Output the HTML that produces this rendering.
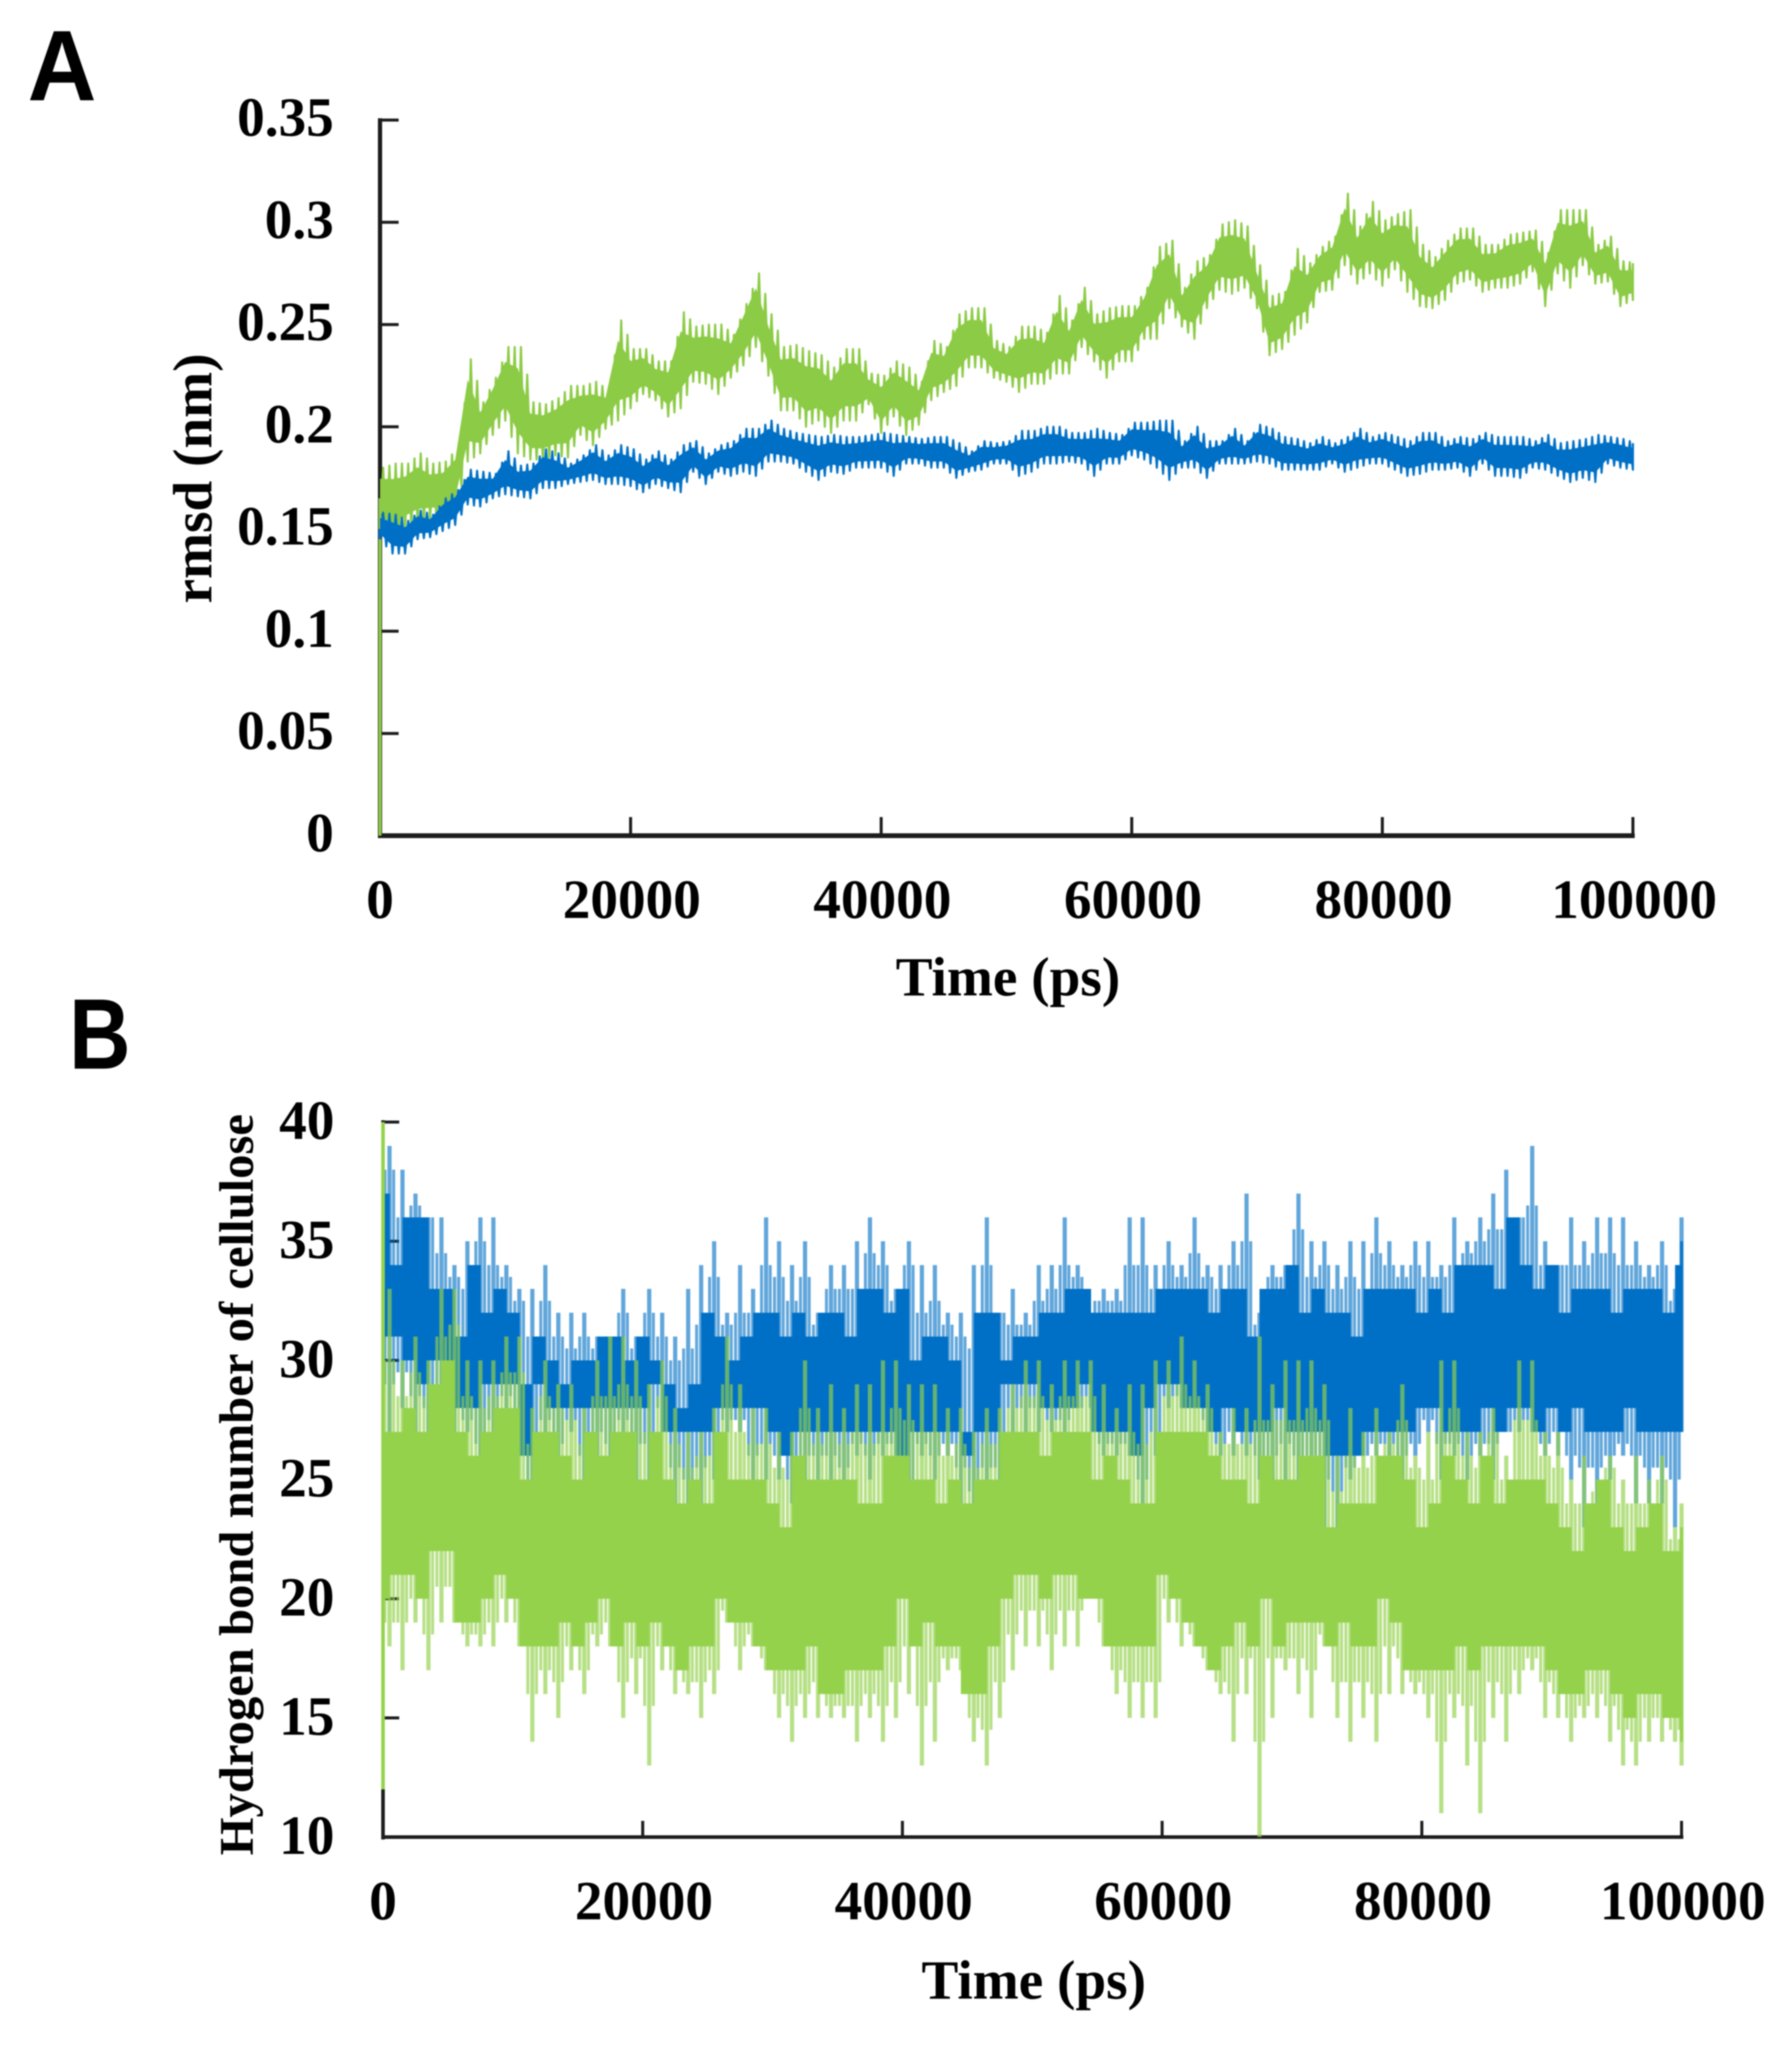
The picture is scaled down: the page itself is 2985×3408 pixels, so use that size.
<!DOCTYPE html>
<html lang="en">
<head>
<meta charset="utf-8">
<title>RMSD and hydrogen bond number over time</title>
<style>
  html, body { margin: 0; padding: 0; background: #fff; }
  svg { display: block; filter: blur(1.1px); }
  text { font-family: "Liberation Serif", serif; font-weight: 700; fill: #000; }
  .panel { font-family: "Liberation Sans", sans-serif; font-size: 167px; fill: #000; }
  .tick { font-size: 92px; }
  .title { font-size: 92px; }
</style>
</head>
<body>
<svg id="figure" xmlns="http://www.w3.org/2000/svg" width="2985" height="3408" viewBox="0 0 2985 3408">
  <rect x="0" y="0" width="2985" height="3408" fill="#fff"/>

  <text class="panel" transform="translate(46,167) scale(.95,1)">A</text>
  <g id="chartA"></g>
  <text class="title" text-anchor="middle" transform="translate(352,797) rotate(-90)">rmsd (nm)</text>
  <text class="title" text-anchor="middle" x="1679" y="1658">Time (ps)</text>

  <text class="panel" transform="translate(115,1780) scale(.85,1)">B</text>
  <g id="chartB"></g>
  <text class="title" style="font-size:81px" text-anchor="middle" transform="translate(421,2473) rotate(-90)">Hydrogen bond number of cellulose</text>
  <text class="title" text-anchor="middle" x="1722" y="3329">Time (ps)</text>
</svg>

<script>
// ---- shared x data ----
const binPs = 1000;
const xTicks = [0, 20000, 40000, 60000, 80000, 100000];
const xTickLabels = ['0', '20000', '40000', '60000', '80000', '100000'];

// ---- chart A: rmsd, envelope per 1000 ps bin, in thousandths of a nm ----
const rmsdYTicks = [0, 0.05, 0.1, 0.15, 0.2, 0.25, 0.3, 0.35];
const rmsdYLabels = ['0', '0.05', '0.1', '0.15', '0.2', '0.25', '0.3', '0.35'];
const rmsdGreenStart = [0, 165];
const rmsdBlueStart = [145, 150];
const rmsdGreenHigh = [
  180,182,182,187,182,183,190,233,212,224,
  239,239,212,211,214,220,220,222,218,252,
  238,238,232,232,256,249,250,250,245,260,
  275,255,239,240,237,235,229,238,238,226,
  225,232,229,222,242,239,255,258,258,242,
  239,249,249,246,264,252,268,255,258,259,
  259,268,288,291,268,281,284,299,301,298,
  279,264,266,287,280,288,293,314,298,310,
  301,304,306,289,283,291,297,297,289,289,
  294,295,296,285,306,306,306,289,293,281,
  280];
const rmsdGreenLow = [
  153,144,150,153,155,155,159,183,187,196,
  203,187,184,184,186,185,196,191,199,203,
  209,216,213,205,209,222,221,216,224,230,
  239,225,208,208,200,203,197,203,203,211,
  197,205,196,201,213,217,220,229,229,224,
  222,217,221,221,226,226,239,232,224,232,
  232,243,243,258,249,243,258,267,265,268,
  258,235,238,245,251,266,267,279,270,275,
  269,277,266,259,258,262,270,272,266,268,
  268,270,276,259,275,268,279,270,271,259,
  262];
const rmsdBlueHigh = [
  158,157,154,159,157,165,169,179,178,177,
  188,181,182,189,187,182,186,191,186,191,
  189,184,188,184,191,193,187,191,193,199,
  199,203,199,197,196,195,196,195,195,196,
  197,196,195,194,195,195,192,188,193,192,
  193,198,198,200,200,197,197,199,197,196,
  202,202,203,203,193,200,193,193,199,193,
  201,199,195,194,192,195,192,195,199,195,
  197,195,193,197,197,193,195,194,197,195,
  195,195,193,196,192,193,194,196,195,194,
  192];
const rmsdBlueLow = [
  145,138,138,145,146,149,152,162,161,165,
  167,166,165,170,170,172,173,174,172,172,
  171,168,172,170,168,178,172,178,176,178,
  176,183,183,182,178,174,178,177,180,180,
  180,176,182,182,180,180,175,178,179,182,
  182,176,178,182,182,183,182,176,182,182,
  186,184,180,174,180,180,175,182,182,182,
  183,182,179,179,179,179,182,178,180,182,
  182,179,176,177,179,179,180,176,182,176,
  176,175,180,179,176,173,175,173,182,180,
  179];

// ---- chart B: hydrogen bonds, per 1000 ps bin ----
const hbondYTicks = [10, 15, 20, 25, 30, 35, 40];
const hbondYLabels = ['10', '15', '20', '25', '30', '35', '40'];
const hbondGreenStart = [12, 40];
const hbondBlueHigh = [
  39,38,37,36,36,34,35,36,36,34,
  33,33,34,32,32,32,31,31,33,31,
  33,32,31,33,34,35,32,34,33,36,
  35,34,35,
  32,34,34,35,36,35,33,35,34,34,
  32,32,34,36,32,33,32,34,34,36,
  34,32,33,33,36,36,34,35,34,36,
  34,34,35,37,
  32,34,34,37,35,35,34,35,35,36,
  35,34,35,35,34,36,35,36,37,38,
  36,39,35,34,36,35,36,36,36,35,
  34,35,33,36];
const hbondBlueCoreTop = [
  37,34,36,36,33,33,31,34,32,33,
  32,29,31,30,29,30,30,31,31,30,
  31,30,29,28,29,32,31,30,31,32,
  32,31,32,
  31,32,32,31,33,33,32,33,30,31,
  31,30,27,32,32,30,31,31,32,32,
  33,33,32,32,32,32,32,33,33,33,
  33,32,33,33,
  31,33,33,34,32,33,32,32,31,33,
  33,33,33,32,33,32,34,34,34,33,
  36,34,33,34,32,33,33,33,32,33,
  33,33,32,34];
const hbondBlueCoreBottom = [
  31,31,30,29,30,30,28,28,29,29,
  29,26,29,28,28,28,28,28,28,28,
  28,29,27,27,27,27,28,28,28,28,
  27,26,27,
  27,27,27,27,27,27,27,26,27,27,
  27,27,26,27,27,29,29,29,28,28,
  28,29,27,27,27,26,28,29,29,28,
  28,27,28,27,
  27,27,28,27,27,27,26,26,26,27,
  27,27,27,28,28,27,27,27,28,27,
  28,28,27,28,27,28,27,27,27,28,
  27,27,27,27];
const hbondBlueLow = [
  27,28,27,27,26,27,27,25,26,28,
  27,22,26,25,27,24,26,25,27,25,
  25,27,24,23,24,25,27,27,24,25,
  25,24,25,
  25,25,24,26,25,26,26,24,26,25,
  26,24,23,24,24,27,27,27,27,27,
  28,28,26,26,26,24,26,28,28,28,
  27,26,26,26,
  25,25,25,25,25,23,23,25,26,26,
  26,25,26,27,25,26,25,26,25,27,
  27,27,26,26,25,23,24,25,26,24,
  24,24,23,27];
const hbondGreenHigh = [
  33,30,31,30,33,33,30,30,30,31,
  31,28,30,29,29,28,30,31,31,30,
  29,30,28,27,27,28,31,29,28,28,
  27,27,30,
  28,29,28,29,29,30,30,29,29,29,
  28,28,27,28,28,29,30,30,29,30,
  30,30,29,28,29,29,30,30,31,30,
  29,27,28,28,
  31,29,30,30,30,29,26,28,27,28,
  27,29,26,27,30,30,27,27,28,26,
  30,30,27,27,25,26,25,26,25,26,
  25,26,23,24];
const hbondGreenCoreTop = [
  27,27,28,27,29,30,27,26,27,28,
  28,25,27,27,26,25,27,26,27,27,
  25,27,25,24,25,24,27,25,25,25,
  24,23,26,
  25,25,25,25,24,24,26,26,25,25,
  24,25,24,25,25,27,27,27,26,27,
  27,27,25,26,25,24,24,27,27,27,
  27,26,25,25,
  24,26,25,25,26,26,23,24,24,24,
  26,26,25,23,24,26,25,24,26,24,
  25,25,25,24,23,22,24,25,23,22,
  23,24,22,22];
const hbondGreenCoreBottom = [
  20,21,21,20,22,22,19,19,20,21,
  20,18,18,18,19,18,19,20,18,19,
  18,19,18,17,18,18,20,19,19,18,
  17,17,17,
  18,16,16,17,17,17,18,20,18,19,
  18,18,16,16,18,20,21,21,20,21,
  21,20,20,18,18,18,18,21,20,19,
  18,17,18,19,
  18,20,18,19,19,19,18,19,18,18,
  20,19,17,17,17,17,18,17,18,18,
  18,18,18,17,16,16,17,17,16,15,
  16,16,15,15];
const hbondGreenLow = [
  18,17,19,17,19,19,18,18,18,19,
  18,14,16,15,17,16,18,18,15,16,
  13,17,16,16,15,16,19,17,18,17,
  15,14,15,
  15,15,15,14,15,14,15,16,13,14,
  17,17,14,13,15,17,18,18,17,18,
  18,20,18,16,15,15,15,19,18,18,
  17,16,14,16,
  10,15,17,16,15,18,15,14,15,14,
  16,16,16,15,11,15,13,11,15,14,
  16,17,15,15,14,15,15,14,13,13,
  14,14,14,13];

// ---- helpers ----
const SVGNS = 'http://www.w3.org/2000/svg';
const blue = '#0070c6';
const greenA = '#8ccb45';
const greenB = '#94d24c';
const axisInk = '#1c1c1c';

function mk(tag, parent) {
  const el = document.createElementNS(SVGNS, tag);
  parent.appendChild(el);
  return el;
}
function seg(el, x1, y1, x2, y2, stroke, width) {
  el.setAttribute('x1', x1);
  el.setAttribute('y1', y1);
  el.setAttribute('x2', x2);
  el.setAttribute('y2', y2);
  el.setAttribute('stroke', stroke);
  el.setAttribute('stroke-width', width);
}

// ---- chart A axes functions ----
const ax = t => 633 + (t / 100000) * 2087;
const ay = v => 1392 - (v / 0.35) * 1192;
// ---- chart B axes functions ----
const bx = t => 638 + (t / 100000) * 2163;
const by = v => 3060 - ((v - 10) / 30) * 1191;

// ---- chart A series ----
const chartA = document.getElementById('chartA');

function drawRmsd(high, low, start, color, seriesName) {
  const g = mk('g', chartA);
  
  

  const startLine = mk('line', g);
  
  
  seg(startLine, ax(0), ay(start[0] / 1000), ax(0), ay(start[1] / 1000), color, 5);

  const band = mk('polygon', g);
  
  
  const upper = high.map((h, i) => ax(i * binPs) + ',' + ay((h * 0.8 + low[i] * 0.2) / 1000));
  const lower = low.map((l, i) => ax(i * binPs) + ',' + ay((l * 0.8 + high[i] * 0.2) / 1000));
  band.setAttribute('points', upper.concat(lower.reverse()).join(' '));
  band.setAttribute('fill', color);

  const zig = mk('polyline', g);
  
  
  const pts = [];
  high.forEach((h, i) => {
    const t = i * binPs;
    if (i < high.length - 1) {
      pts.push(ax(t) + ',' + ay(low[i] / 1000));
      pts.push(ax(t + binPs * 0.25) + ',' + ay(h / 1000));
      pts.push(ax(t + binPs * 0.5) + ',' + ay((low[i] + low[i + 1]) / 2000));
      pts.push(ax(t + binPs * 0.75) + ',' + ay((h + high[i + 1]) / 2000));
    } else {
      pts.push(ax(t) + ',' + ay(low[i] / 1000));
      pts.push(ax(t) + ',' + ay(h / 1000));
    }
  });
  zig.setAttribute('points', pts.join(' '));
  zig.setAttribute('fill', 'none');
  zig.setAttribute('stroke', color);
  zig.setAttribute('stroke-width', 3.5);
  zig.setAttribute('stroke-linejoin', 'round');
}

// ---- chart B series ----
const chartB = document.getElementById('chartB');

function drawHbond(high, coreTop, coreBottom, low, color, seriesName, spikeOpacity) {
  const g = mk('g', chartB);
  
  
  high.forEach((h, i) => {
    const t = Math.min(i * binPs + binPs / 2, 100000);
    const spike = mk('line', g);
    
    
    seg(spike, bx(t), by(h), bx(t), by(low[i]), color, 7);
    spike.setAttribute('opacity', spikeOpacity);

    const upSide = (h + coreTop[i]) / 2;
    const downSide = (low[i] + coreBottom[i]) / 2;
    const side1 = mk('line', g);
    
    
    const t1 = Math.min(i * binPs + binPs * 0.15, 100000);
    seg(side1, bx(t1), by(upSide), bx(t1), by(downSide), color, 5);
    side1.setAttribute('opacity', spikeOpacity);

    const side2 = mk('line', g);
    
    
    const t2 = Math.min(i * binPs + binPs * 0.82, 100000);
    seg(side2, bx(t2), by(upSide), bx(t2), by(downSide), color, 5);
    side2.setAttribute('opacity', spikeOpacity);
  });
  coreTop.forEach((top, i) => {
    const t0 = Math.max(i * binPs - binPs / 2, 0);
    const t1 = Math.min(i * binPs + binPs / 2, 100000);
    const cell = mk('rect', g);
    
    
    cell.setAttribute('x', bx(t0));
    cell.setAttribute('width', bx(t1) - bx(t0) + 0.6);
    cell.setAttribute('y', by(top));
    cell.setAttribute('height', by(coreBottom[i]) - by(top));
    cell.setAttribute('fill', color);
  });
}

// ---- axes ----
function drawAxes(root, xf, yf, xMin, xMax, yMin, yMax, yTicks, yLabels, o) {
  const g = mk('g', root);
  
  

  const yAxis = mk('line', g);
  
  
  seg(yAxis, xf(xMin), yf(yMax) - 3, xf(xMin), yf(yMin) + 4, axisInk, o.yAxisWidth);

  const xAxis = mk('line', g);
  
  
  seg(xAxis, xf(xMin) - 3, yf(yMin), xf(xMax) + 3, yf(yMin), axisInk, o.xAxisWidth);

  yTicks.forEach((v, i) => {
    if (v !== yMin) {
      const tick = mk('line', g);
      
      
      seg(tick, xf(xMin), yf(v), xf(xMin) + o.tickLen, yf(v), axisInk, 5);
    }
    const label = mk('text', g);
    
    
    label.setAttribute('class', 'tick');
    label.setAttribute('text-anchor', 'end');
    label.setAttribute('x', o.yLabelX);
    label.setAttribute('y', yf(v) + o.yLabelDy);
    label.textContent = yLabels[i];
  });

  xTicks.forEach((t, i) => {
    if (t !== xMin) {
      const tick = mk('line', g);
      
      
      seg(tick, xf(t), yf(yMin), xf(t), yf(yMin) - o.tickLen, axisInk, 5);
    }
    const label = mk('text', g);
    
    
    label.setAttribute('class', 'tick');
    label.setAttribute('text-anchor', 'middle');
    label.setAttribute('x', xf(t) + (t === xMin ? 0 : 2));
    label.setAttribute('y', o.xLabelY);
    label.textContent = xTickLabels[i];
  });
}

// ---- draw ----
drawAxes(chartA, ax, ay, 0, 100000, 0, 0.35, rmsdYTicks, rmsdYLabels,
  { yAxisWidth: 7, xAxisWidth: 8, tickLen: 31, yLabelX: 556, yLabelDy: 26, xLabelY: 1529 });
drawRmsd(rmsdGreenHigh, rmsdGreenLow, rmsdGreenStart, greenA, 'rmsd-series-green');
drawRmsd(rmsdBlueHigh, rmsdBlueLow, rmsdBlueStart, blue, 'rmsd-series-blue');

drawAxes(chartB, bx, by, 0, 100000, 10, 40, hbondYTicks, hbondYLabels,
  { yAxisWidth: 6, xAxisWidth: 6, tickLen: 27, yLabelX: 557, yLabelDy: 28, xLabelY: 3197 });
drawHbond(hbondBlueHigh, hbondBlueCoreTop, hbondBlueCoreBottom, hbondBlueLow, blue, 'hbond-series-blue', 0.62);
drawHbond(hbondGreenHigh, hbondGreenCoreTop, hbondGreenCoreBottom, hbondGreenLow, greenB, 'hbond-series-green', 0.68);

const hbondStart = mk('line', chartB);


seg(hbondStart, bx(0), by(hbondGreenStart[0]), bx(0), by(hbondGreenStart[1]), greenB, 6);
</script>
</body>
</html>
